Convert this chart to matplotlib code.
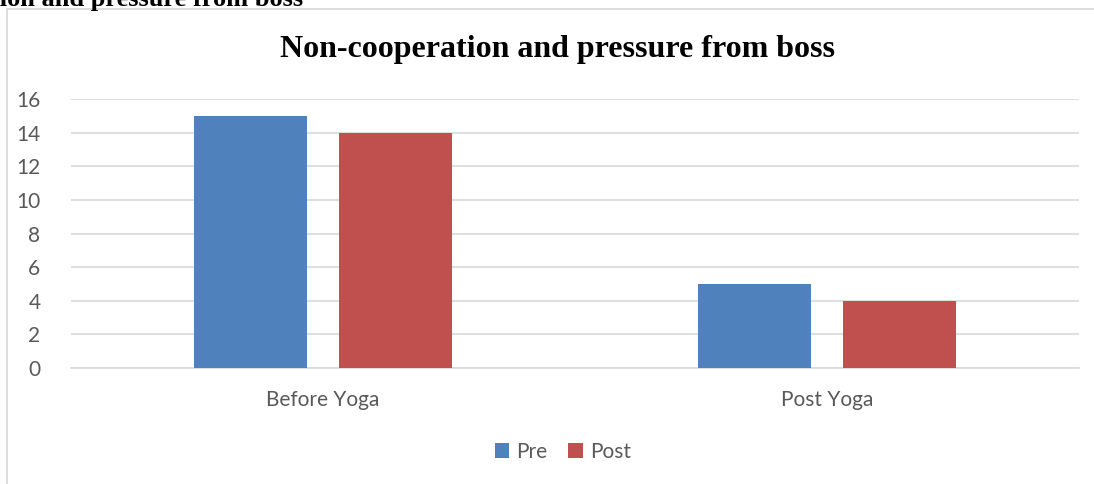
import matplotlib
matplotlib.use("Agg")
import matplotlib.pyplot as plt
from matplotlib.patches import Rectangle
import numpy as np

categories = ["Before Yoga", "Post Yoga"]
series_names = ["Pre", "Post"]
pre_values = [15, 5]
post_values = [14, 4]
colors = ["#4f81bd", "#c0504d"]
yticks = [0, 2, 4, 6, 8, 10, 12, 14, 16]

W, H = 1094, 484
fig = plt.figure(figsize=(W / 100, H / 100), dpi=100)

# outer chart frame
fig.add_artist(Rectangle((7 / W, -0.05), 1.2, (H - 9) / H + 0.05, transform=fig.transFigure,
                         fill=False, edgecolor="#d9d9d9", linewidth=1.3))

# clipped heading at the top-left
fig.text(303 / W, 1 - 6 / H, "tion and pressure from boss", ha="right", va="baseline",
         fontsize=19, fontweight="bold", family="Liberation Serif", color="black")

ax = fig.add_axes([71 / W, 1 - 368 / H, (1079 - 71) / W, (368 - 99) / H])
x = np.arange(len(categories))
bw = 0.224
off = 0.143
ax.bar(x - off, pre_values, bw, color=colors[0], label=series_names[0], zorder=3)
ax.bar(x + off, post_values, bw, color=colors[1], label=series_names[1], zorder=3)

ax.set_xlim(-0.5, 1.5)
ax.set_ylim(0, 16)
ax.set_yticks(yticks)
ax.set_xticks(x)
ax.set_xticklabels(categories)
ax.grid(axis="y", color="#d9d9d9", linewidth=1.2, zorder=0)
for s in ["top", "right", "left"]:
    ax.spines[s].set_visible(False)
ax.spines["bottom"].set_color("#d9d9d9")
ax.spines["bottom"].set_linewidth(1.2)
ax.tick_params(axis="both", length=0, labelsize=15, colors="#595959")
ax.tick_params(axis="y", pad=22)
ax.tick_params(axis="x", pad=16)
for lab in ax.get_xticklabels() + ax.get_yticklabels():
    lab.set_family("Lato")

fig.text(557 / W, 1 - 49 / H, "Non-cooperation and pressure from boss", ha="center", va="center",
         fontsize=23, fontweight="bold", family="Liberation Serif", color="black")

leg = fig.legend(loc="center", bbox_to_anchor=(563 / W, 1 - 452 / H), ncol=2, frameon=False,
                 prop={"family": "Lato", "size": 15}, handlelength=0.7, handleheight=0.7,
                 handletextpad=0.35, columnspacing=1.0, labelcolor="#595959")

fig.savefig("out.png", dpi=100)
